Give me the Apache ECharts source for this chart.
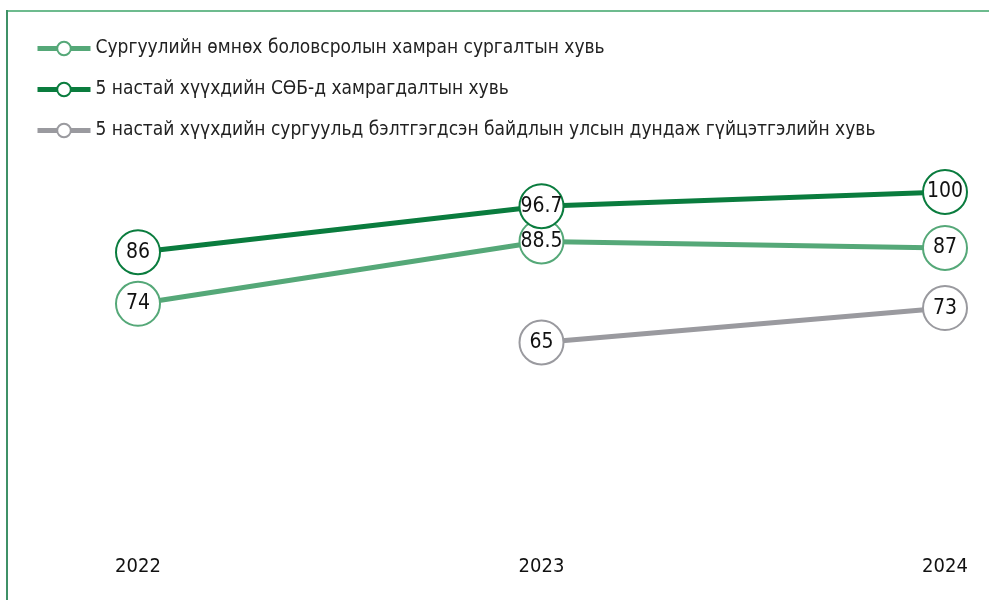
<!DOCTYPE html>
<html>
<head>
<meta charset="utf-8">
<script src="https://cdn.jsdelivr.net/npm/echarts@6/dist/echarts.min.js"></script>
<style>
  html, body { margin: 0; padding: 0; background: #fff; }
  #main { width: 989px; height: 600px; }
</style>
</head>
<body>
<div id="main"></div>
<script>
var years = ['2022', '2023', '2024'];
var names = [
  'Сургуулийн өмнөх боловсролын хамран сургалтын хувь',
  '5 настай хүүхдийн СӨБ-д хамрагдалтын хувь',
  '5 настай хүүхдийн сургуульд бэлтгэгдсэн байдлын улсын дундаж гүйцэтгэлийн хувь'
];
var preschool = [74, 88.5, 87];
var age5 = [86, 96.7, 100];
var readiness = [null, 65, 73];
var colors = ['#55a878', '#0a7c3e', '#9a9a9f'];

var font = '"Liberation Sans Narrow", "DejaVu Sans Condensed", "Roboto", sans-serif';

function makeSeries(name, data, color) {
  return {
    name: name,
    type: 'line',
    data: data,
    symbol: 'circle',
    symbolSize: 44,
    lineStyle: { color: color, width: 5 },
    itemStyle: { color: '#fff', borderColor: color, borderWidth: 2 },
    label: {
      show: true,
      position: 'inside',
      color: '#111',
      fontSize: 21,
      fontFamily: font
    },
    emphasis: { disabled: true },
    z: 2
  };
}

var myChart = echarts.init(document.getElementById('main'));
var option = {
  animation: false,
  textStyle: { fontFamily: font },
  graphic: [
    { type: 'line', shape: { x1: 7, y1: 11, x2: 989, y2: 11 }, style: { stroke: '#6dbb8e', lineWidth: 2 } },
    { type: 'line', shape: { x1: 7, y1: 10, x2: 7, y2: 600 }, style: { stroke: '#3f9167', lineWidth: 2 } }
  ],
  legend: {
    orient: 'vertical',
    left: 35,
    top: 39,
    padding: 0,
    itemGap: 22,
    itemWidth: 53,
    itemHeight: 17,
    data: names,
    lineStyle: { width: 5 },
    itemStyle: { borderWidth: 2 },
    textStyle: { fontSize: 19, color: '#222', fontFamily: font }
  },
  grid: { left: 138, right: 44, top: 106, bottom: 64 },
  xAxis: {
    type: 'category',
    data: years,
    boundaryGap: false,
    axisLine: { show: false },
    axisTick: { show: false },
    axisLabel: { color: '#111', fontSize: 20, margin: 21, fontFamily: font }
  },
  yAxis: {
    type: 'value',
    min: 20,
    max: 120,
    show: false,
    splitLine: { show: false }
  },
  series: [
    makeSeries(names[0], preschool, colors[0]),
    makeSeries(names[1], age5, colors[1]),
    makeSeries(names[2], readiness, colors[2])
  ]
};
myChart.setOption(option);
</script>
</body>
</html>
